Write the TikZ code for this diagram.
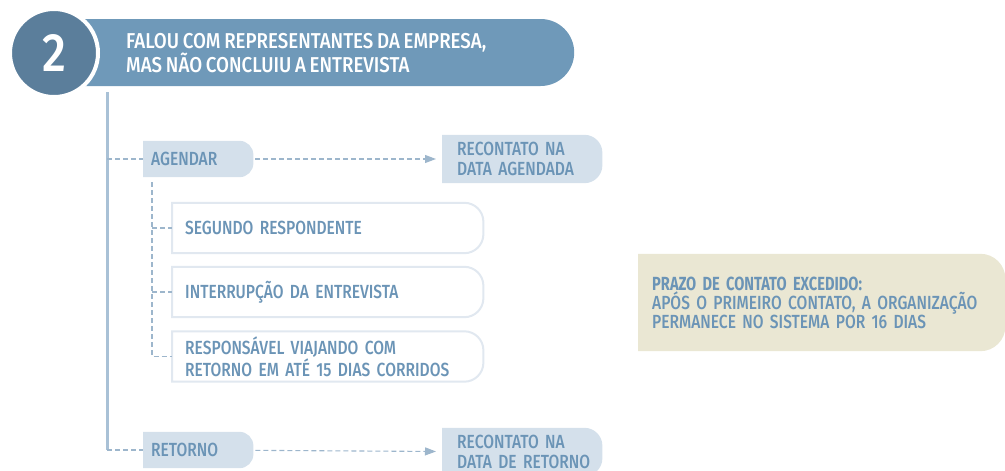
\documentclass[tikz,border=0pt]{standalone}
\usepackage{fontspec}
\usepackage{xcolor}
\usetikzlibrary{
    arrows.meta,
    shapes.misc,
    calc,
    positioning
}
\newfontfamily\condfont[FakeStretch=0.82,WordSpace=0.75,UprightFont=* Medium,BoldFont=* Bold,
    BoldFeatures={FakeStretch=0.77}]{Fira Sans}
\newfontfamily\headfont[FakeStretch=0.87,WordSpace=0.8,UprightFont=* Medium]{Fira Sans}
\hyphenpenalty=10000
\exhyphenpenalty=10000

\definecolor{bannerblue}{HTML}{6F99B9}
\definecolor{circleblue}{HTML}{5B7E9B}
\definecolor{trunkblue}{HTML}{A9C1D6}
\definecolor{dashblue}{HTML}{9DB6CC}
\definecolor{softblue}{HTML}{D4E0EB}
\definecolor{textblue}{HTML}{6B94B6}
\definecolor{rimgray}{HTML}{E1E8F0}
\definecolor{sand}{HTML}{EAE7D3}

\pgfdeclarelayer{bg}
\pgfsetlayers{bg,main}

\newcommand{\tabfill}[3]{%
    \begin{pgfonlayer}{bg}
        \path[#3] (#1.south west) -- (#1.north west) -- ([xshift=-#2]#1.north east)
            arc[start angle=90, end angle=0, radius=#2pt] -- ([yshift=#2]#1.south east)
            arc[start angle=0, end angle=-90, radius=#2pt] -- cycle;
    \end{pgfonlayer}}

\tikzset{
    banner/.style={rounded rectangle, rounded rectangle left arc=none, fill=bannerblue,
        minimum height=67, minimum width=504, inner sep=0},
    badge/.style={circle, fill=circleblue, draw=white, line width=4, minimum size=88,
        text=white, font=\headfont\fontsize{54}{54}\selectfont},
    headtext/.style={anchor=west, text=white, align=left, inner sep=0,
        font=\headfont\fontsize{21.5}{22}\selectfont},
    lbl/.style={anchor=west, text=textblue, align=left, inner ysep=0,
        font=\condfont\fontsize{19}{20}\selectfont},
    smallbox/.style={lbl, minimum width=110, minimum height=36, inner xsep=8, text width=94},
    targetbox/.style={lbl, minimum width=160, minimum height=48, inner xsep=15, text width=130},
    casebox/.style={lbl, minimum width=311, minimum height=50, inner xsep=13, text width=285},
    notebox/.style={lbl, minimum width=367, minimum height=97, inner xsep=14, text width=339,
        font=\condfont\fontsize{19}{19}\selectfont},
    boxrim/.style={fill=white, draw=rimgray, line width=2},
    trunk/.style={draw=trunkblue, line width=3},
    branch/.style={draw=dashblue, line width=1.1, dash pattern=on 5pt off 3pt},
    link/.style={branch, -{Triangle[length=11pt,width=8pt]}, shorten >=6pt, shorten <=2pt}
}

\begin{document}
\begin{tikzpicture}[x=1pt, y=-1pt]
    \useasboundingbox (0,0) rectangle (1005,471);

    \node[banner, anchor=west] (head) at (70,52.5) {};
    \node[headtext] (headtxt) at (126,53) {FALOU COM REPRESENTANTES DA EMPRESA,\\MAS NÃO CONCLUIU A ENTREVISTA};
    \node[badge] (num) at (54,53) {2};

    \node[smallbox] (agd) at (143,159) {AGENDAR};
    \node[targetbox] (rec1) at (442,159) {RECONTATO NA\\DATA~AGENDADA};
    \node[casebox] (b1) at (172,228) {SEGUNDO RESPONDENTE};
    \node[casebox] (b2) at (172,292) {INTERRUPÇÃO DA ENTREVISTA};
    \node[casebox] (b3) at (172,356.5) {RESPONSÁVEL VIAJANDO COM\\RETORNO EM ATÉ 15 DIAS CORRIDOS};
    \node[smallbox] (ret) at (143,450) {RETORNO};
    \node[targetbox] (rec2) at (442,452) {RECONTATO NA\\DATA~DE~RETORNO};
    \node[notebox] (note) at (638,302.5) {{\bfseries PRAZO DE CONTATO EXCEDIDO:}\\APÓS O PRIMEIRO CONTATO, A ORGANIZAÇÃO\\PERMANECE NO SISTEMA POR 16 DIAS};

    \tabfill{agd}{14}{fill=softblue}
    \tabfill{ret}{14}{fill=softblue}
    \tabfill{rec1}{18}{fill=softblue}
    \tabfill{rec2}{18}{fill=softblue}
    \foreach \b in {b1,b2,b3}{
        \tabfill{\b}{19}{boxrim}
    }
    \tabfill{note}{25}{fill=sand}

    \coordinate (trunktop) at (107,92);
    \coordinate (fork) at (152,182);
    \draw[trunk] (trunktop) -- (ret.west -| trunktop);
    \draw[branch] (agd.west -| trunktop) -- (agd.west);
    \draw[branch] (ret.west -| trunktop) -- (ret.west);
    \draw[branch] (fork) |- (b3.west);
    \draw[branch] (b1.west -| fork) -- (b1.west);
    \draw[branch] (b2.west -| fork) -- (b2.west);
    \draw
    (agd) edge[link] (rec1)
    (ret) edge[link] (rec2);
\end{tikzpicture}
\end{document}
